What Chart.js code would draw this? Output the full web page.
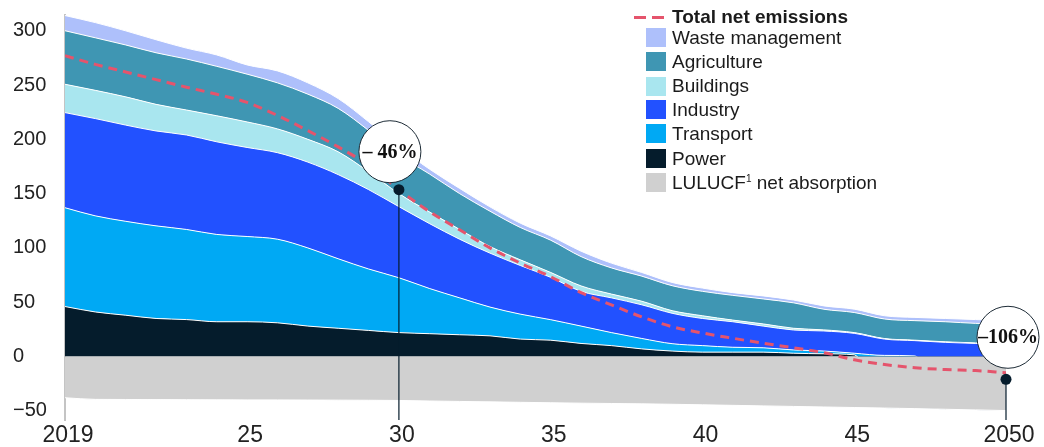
<!DOCTYPE html>
<html lang="en">
<head>
<meta charset="UTF-8" />
<title>Net emissions pathway 2019-2050</title>
<script src="https://cdn.jsdelivr.net/npm/chart.js"></script>
<style>
  body { margin: 0; background: #fff; font-family: "Liberation Sans", Arial, sans-serif; }
  #wrap { position: relative; width: 1044px; height: 447px; }
  .lg { position: absolute; color: #1b1b1b; font-size: 19px; line-height: 22px; white-space: nowrap; }
  .sw { position: absolute; left: 646px; width: 20px; height: 19px; }
  .dash { position: absolute; top: 16px; width: 12px; height: 3px; background: #e5546c; }
  sup { font-size: 10px; vertical-align: 7px; line-height: 0; }
</style>
</head>
<body>
<div id="wrap">
  <canvas id="chart" width="1044" height="447"></canvas>

  <!-- Legend -->
  <span class="dash" style="left:634px"></span>
  <span class="dash" style="left:652px"></span>
  <div class="lg" style="left:672px; top:6px; font-weight:bold">Total net emissions</div>

  <div class="sw" style="top:28px; background:#aec0fb"></div>
  <div class="lg" style="left:672px; top:27px">Waste management</div>
  <div class="sw" style="top:52px; background:#3f96b3"></div>
  <div class="lg" style="left:672px; top:51px">Agriculture</div>
  <div class="sw" style="top:77px; background:#a9e6ef"></div>
  <div class="lg" style="left:672px; top:75px">Buildings</div>
  <div class="sw" style="top:100px; background:#2251ff"></div>
  <div class="lg" style="left:672px; top:99px">Industry</div>
  <div class="sw" style="top:124px; background:#00a9f4"></div>
  <div class="lg" style="left:672px; top:123px">Transport</div>
  <div class="sw" style="top:149px; background:#051c2c"></div>
  <div class="lg" style="left:672px; top:148px">Power</div>
  <div class="sw" style="top:173px; background:#d0d0d0"></div>
  <div class="lg" style="left:672px; top:172px">LULUCF<sup>1</sup> net absorption</div>
</div>

<script>
  // Data (one per year)
  const years = [];
  for (let y = 2019; y <= 2050; y++) years.push(y);

  const power = [46, 41, 38, 35, 34, 32, 32, 31, 28, 26, 24, 22, 21, 20, 19, 16, 15, 12, 10, 7, 5, 4, 4, 4, 3, 2.5, 1.5, 0, 0, 0, 0, 0];
  const transport = [91, 88.5, 86.5, 85.3, 83, 80.4, 78.5, 77, 72, 64, 56.6, 50.5, 41.7, 34, 26.5, 23, 18.9, 16, 12, 9.6, 6.8, 6, 4.5, 4, 3, 2.5, 1.5, 1, 0.5, 0, 0, 0];
  const industry = [87.6, 89.6, 88.6, 87.4, 87, 85.3, 82, 79.7, 79, 77.5, 73.1, 65.5, 59.8, 54, 49.7, 44.8, 39, 32, 32, 31, 28, 25, 23.5, 20, 18.4, 18.5, 18.3, 15, 14.1, 13, 12, 11.5];
  const buildings = [26.1, 26, 26, 24.5, 23, 24, 23.5, 21.9, 21, 21, 16.5, 12, 10.7, 9, 6.1, 5.2, 4.5, 5, 3.5, 3.3, 2.4, 2.5, 1.5, 2, 1.6, 1, 0.7, 0.5, 0.4, 0.5, 0.5, 0.5];
  const agriculture = [49.3, 48.4, 47.8, 47.5, 47, 45.5, 44, 42.4, 41.6, 40, 38, 35.5, 35, 33, 32.5, 29.8, 29.7, 27, 24.1, 23.1, 23, 22.5, 22.8, 23, 23.4, 19, 18.5, 18, 18, 18.5, 18, 18];
  const waste = [14, 14, 13, 12, 10, 10.5, 8.5, 11, 10.4, 9, 8, 7.5, 4.5, 4.8, 4, 4, 3.9, 5, 4.4, 3.4, 3, 3, 2.5, 2.8, 2.6, 3.1, 3.1, 3, 3, 3, 3.5, 3];
  const lulucf = [-38, -39.5, -39.6, -39.7, -39.8, -39.9, -40, -40, -40.1, -40.2, -40.3, -40.5, -41, -41.4, -41.8, -42.2, -42.6, -43, -43.3, -43.6, -44, -44.5, -45, -45.5, -46, -46.5, -47, -47.5, -48, -48.6, -49.2, -49.8];
  const totalNet = [277, 269, 262, 255, 248, 241.5, 234, 222, 208, 193, 176, 153.6, 133.5, 116.7, 100, 86, 73.4, 58.8, 47.5, 36.5, 27.4, 21.6, 16.8, 12.2, 8, 3.5, -3, -7.4, -10.4, -12, -13, -15];

  const yTicks = [-50, 0, 50, 100, 150, 200, 250, 300];
  const xTickYears = [2019, 2025, 2030, 2035, 2040, 2045, 2050];
  const xTickLabels = ['2019', '25', '30', '35', '40', '45', '2050'];

  const calloutYears = [2030, 2050];
  const calloutValues = [153.6, -21];
  const calloutLabels = ['\u2013 46%', '\u2013106%'];
  const bubbleOffsetX = [-9, 2];
  const bubbleOffsetY = [-38, -42];

  const pts = arr => years.map((yr, i) => ({ x: yr, y: arr[i] }));

  function area(label, arr, color, fill) {
    return {
      label, data: pts(arr), stack: 'sectors', fill,
      backgroundColor: color, borderColor: '#ffffff', borderWidth: 1,
      pointRadius: 0, cubicInterpolationMode: 'monotone'
    };
  }

  // Callout bubbles, dots and stems
  const calloutPlugin = {
    id: 'callouts',
    afterDatasetsDraw(chart) {
      const { ctx, chartArea, scales: { x, y } } = chart;
      ctx.save();
      calloutYears.forEach((yr, i) => {
        const px = x.getPixelForValue(yr);
        const py = y.getPixelForValue(calloutValues[i]);
        ctx.strokeStyle = '#051c2c';
        ctx.lineWidth = 1.2;
        ctx.beginPath();
        ctx.moveTo(px, py);
        ctx.lineTo(px, chartArea.bottom);
        ctx.stroke();
        ctx.fillStyle = '#051c2c';
        ctx.beginPath();
        ctx.arc(px, py, 5.5, 0, Math.PI * 2);
        ctx.fill();

        const cx = px + bubbleOffsetX[i], cy = py + bubbleOffsetY[i];
        ctx.beginPath();
        ctx.arc(cx, cy, 31, 0, Math.PI * 2);
        ctx.fillStyle = '#ffffff';
        ctx.fill();
        ctx.lineWidth = 1;
        ctx.strokeStyle = '#1d2b36';
        ctx.stroke();
        ctx.fillStyle = '#111111';
        ctx.font = 'bold 20px "Liberation Serif", "DejaVu Serif", serif';
        ctx.textAlign = 'center';
        ctx.textBaseline = 'middle';
        ctx.fillText(calloutLabels[i], cx, cy + 1);
      });
      ctx.restore();
    }
  };

  new Chart(document.getElementById('chart'), {
    type: 'line',
    data: {
      datasets: [
        {
          label: 'Total net emissions', data: pts(totalNet), stack: 'net', fill: false,
          borderColor: '#e5546c', borderWidth: 3, borderDash: [9, 6],
          pointRadius: 0, cubicInterpolationMode: 'monotone'
        },
        area('LULUCF net absorption', lulucf, '#d0d0d0', 'origin'),
        area('Power', power, '#051c2c', 'origin'),
        area('Transport', transport, '#00a9f4', '-1'),
        area('Industry', industry, '#2251ff', '-1'),
        area('Buildings', buildings, '#a9e6ef', '-1'),
        area('Agriculture', agriculture, '#3f96b3', '-1'),
        area('Waste management', waste, '#aec0fb', '-1')
      ]
    },
    options: {
      responsive: false,
      animation: false,
      layout: { padding: { left: 13, right: 38, top: 12, bottom: 0 } },
      plugins: {
        legend: { display: false },
        tooltip: { enabled: false }
      },
      scales: {
        x: {
          type: 'linear',
          min: 2019, max: 2050,
          afterBuildTicks: s => { s.ticks = xTickYears.map(v => ({ value: v })); },
          afterFit: s => { s.height = 27; },
          grid: { display: false, drawTicks: false },
          border: { display: false },
          ticks: {
            autoSkip: false, maxRotation: 0, padding: 2, labelOffset: 3,
            color: '#222',
            font: { family: '"Liberation Sans", Arial, sans-serif', size: 23 },
            callback: v => xTickLabels[xTickYears.indexOf(v)]
          }
        },
        y: {
          stacked: true,
          min: -58.5, max: 314.5,
          afterBuildTicks: s => { s.ticks = yTicks.map(v => ({ value: v })); },
          afterFit: s => { s.width = 52; },
          grid: { display: false, drawTicks: false },
          border: { display: true, color: '#c4c4c4', width: 2 },
          ticks: {
            crossAlign: 'far',
            color: '#222',
            font: { family: '"Liberation Sans", Arial, sans-serif', size: 20 },
            callback: v => v < 0 ? '\u2212' + Math.abs(v) : String(v)
          }
        }
      }
    },
    plugins: [calloutPlugin]
  });
</script>
</body>
</html>
